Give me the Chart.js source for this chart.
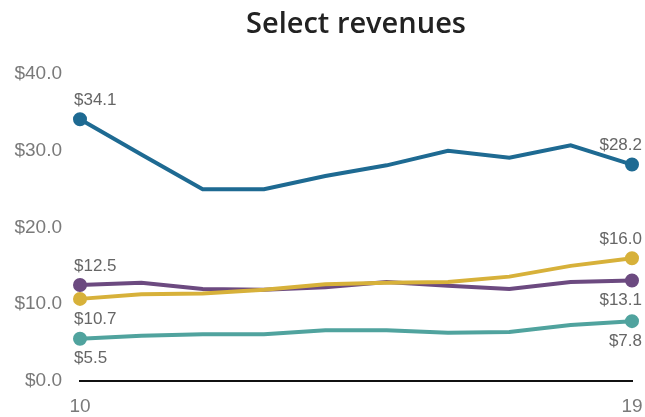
<!DOCTYPE html>
<html>
<head>
<meta charset="utf-8">
<script src="https://cdn.jsdelivr.net/npm/chart.js@4"></script>
<style>
  html, body { margin: 0; padding: 0; background: #fff; }
  #wrap { width: 645px; height: 417px; }
</style>
</head>
<body>
<div id="wrap"><canvas id="revChart" width="645" height="417"></canvas></div>
<script>
// Data
const years = ['10', '11', '12', '13', '14', '15', '16', '17', '18', '19'];
const blueValues = [34.1, 29.5, 25.0, 25.0, 26.7, 28.1, 30.0, 29.1, 30.7, 28.2];
const yellowValues = [10.7, 11.3, 11.4, 11.9, 12.6, 12.8, 12.9, 13.6, 15.0, 16.0];
const purpleValues = [12.5, 12.8, 12.0, 11.9, 12.2, 12.9, 12.4, 12.0, 12.9, 13.1];
const tealValues = [5.5, 5.9, 6.1, 6.1, 6.6, 6.6, 6.3, 6.4, 7.3, 7.8];
const yTicks = [0, 10, 20, 30, 40];
const chartTitle = 'Select revenues';

// where the end labels go: [first, last]  ('above' / 'below')
const labelSides = {
    blue: ['above', 'above'],
    yellow: ['below', 'above'],
    purple: ['above', 'below'],
    teal: ['below', 'below']
};

const fontFamily = '"Liberation Sans", Arial, Helvetica, sans-serif';

function makeDataset(key, data, color) {
    const last = data.length - 1;
    return {
        label: key,
        data: data,
        borderColor: color,
        backgroundColor: color,
        borderWidth: 4,
        tension: 0,
        pointRadius: ctx => (ctx.dataIndex === 0 || ctx.dataIndex === last) ? 5 : 0,
        pointHoverRadius: 0,
        sides: labelSides[key]
    };
}

// Title centred over the plot area, not the whole canvas
const plotTitle = {
    id: 'plotTitle',
    afterDraw(chart) {
        const ctx = chart.ctx;
        const area = chart.chartArea;
        ctx.save();
        ctx.font = '600 29px "Open Sans", ' + fontFamily;
        ctx.fillStyle = '#222';
        ctx.textAlign = 'center';
        ctx.textBaseline = 'middle';
        ctx.fillText(chartTitle, (area.left + area.right) / 2, 25);
        ctx.restore();
    }
};

// Draw the "$x.x" labels at both ends of each line
const endLabels = {
    id: 'endLabels',
    afterDatasetsDraw(chart) {
        const ctx = chart.ctx;
        ctx.save();
        ctx.font = '17px ' + fontFamily;
        ctx.fillStyle = '#666';
        ctx.textBaseline = 'middle';
        chart.data.datasets.forEach((ds, i) => {
            const meta = chart.getDatasetMeta(i);
            const last = ds.data.length - 1;
            [0, last].forEach((idx, k) => {
                const pt = meta.data[idx];
                const text = '$' + ds.data[idx].toFixed(1);
                ctx.textAlign = k === 0 ? 'left' : 'right';
                const x = k === 0 ? pt.x - 6 : pt.x + 10;
                const y = ds.sides[k] === 'above' ? pt.y - 19 : pt.y + 20;
                ctx.fillText(text, x, y);
            });
        });
        ctx.restore();
    }
};

const ctx = document.getElementById('revChart').getContext('2d');
new Chart(ctx, {
    type: 'line',
    data: {
        labels: years,
        datasets: [
            makeDataset('blue', blueValues, '#1e6a92'),
            makeDataset('yellow', yellowValues, '#d7b13a'),
            makeDataset('purple', purpleValues, '#6c4a80'),
            makeDataset('teal', tealValues, '#50a39e')
        ]
    },
    options: {
        responsive: false,
        animation: false,
        layout: {
            padding: { left: 0, right: 13, top: 74, bottom: 0 }
        },
        plugins: {
            legend: { display: false },
            tooltip: { enabled: false },
            title: { display: false }
        },
        scales: {
            x: {
                offset: false,
                grid: { display: false, drawTicks: false },
                border: { display: true, color: '#111', width: 2 },
                ticks: {
                    color: '#7a7a7a',
                    font: { family: fontFamily, size: 19 },
                    padding: 14,
                    maxRotation: 0,
                    autoSkip: false,
                    callback: (v, i) => (i === 0 || i === years.length - 1) ? years[i] : ''
                },
                afterFit: scale => {
                    scale.height = 36;
                    scale.paddingLeft = 0;
                    scale.paddingRight = 0;
                }
            },
            y: {
                min: yTicks[0],
                max: yTicks[yTicks.length - 1],
                afterBuildTicks: scale => {
                    scale.ticks = yTicks.map(v => ({ value: v }));
                },
                grid: { display: false, drawTicks: false },
                border: { display: false },
                ticks: {
                    color: '#7a7a7a',
                    font: { family: fontFamily, size: 19 },
                    padding: 18,
                    callback: v => '$' + Number(v).toFixed(1)
                },
                afterFit: scale => { scale.width = 80; }
            }
        }
    },
    plugins: [endLabels, plotTitle]
});
</script>
</body>
</html>
